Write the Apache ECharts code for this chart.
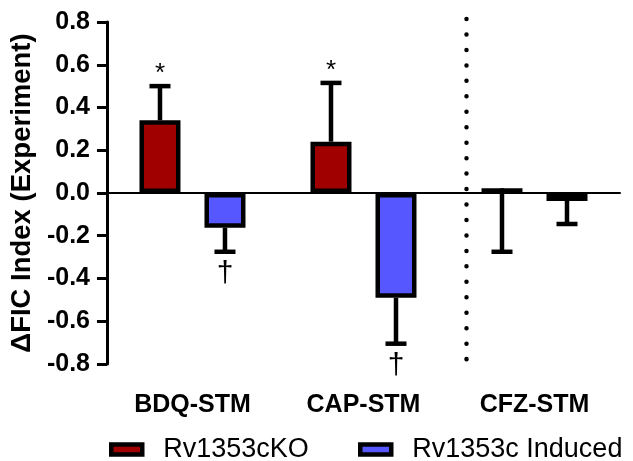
<!DOCTYPE html>
<html>
<head>
<meta charset="utf-8">
<script src="https://cdn.jsdelivr.net/npm/echarts@6/dist/echarts.min.js"></script>
<style>
  html, body { margin: 0; padding: 0; background: #fff; }
  #chart { width: 633px; height: 461px; }
</style>
</head>
<body>
<div id="chart"></div>
<script>
// data
var categories = ['BDQ-STM', 'CAP-STM', 'CFZ-STM'];
var koValues = [0.34, 0.24, 0.022];
var koErrEnd = [0.50, 0.515, -0.275];
var koMarks = ['*', '*', ''];
var indValues = [-0.162, -0.49, -0.037];
var indErrEnd = [-0.275, -0.705, -0.145];
var indMarks = ['\u2020', '\u2020', ''];
var seriesNames = ['Rv1353cKO', 'Rv1353c Induced'];
var yMin = -0.8, yMax = 0.8, yStep = 0.2;

var FONT = '"Liberation Sans", Arial, Helvetica, sans-serif';
var RED = '#a00000';
var BLUE = '#5757ff';
var BAR_W = 41;
var BAR_GAP = 24 / 41;
var BORDER = 4.5;
var OFFSET = (BAR_W + BAR_W * BAR_GAP) / 2;

var chart = echarts.init(document.getElementById('chart'));

function errorData(values, ends, marks) {
    return values.map(function (v, i) {
        return [i, v, ends[i], marks[i]];
    });
}

function errorRender(sign, marks) {
    return function (params, api) {
        var idx = api.value(0);
        var base = api.coord([idx, api.value(1)]);
        var end = api.coord([idx, api.value(2)]);
        var x = base[0] + sign * OFFSET;
        var text = marks[idx];
        var up = end[1] < base[1];
        var children = [
            {type: 'line', shape: {x1: x, y1: base[1], x2: x, y2: end[1]},
                style: {stroke: '#000', lineWidth: 4.5}},
            {type: 'line', shape: {x1: x - 10.5, y1: end[1], x2: x + 10.5, y2: end[1]},
                style: {stroke: '#000', lineWidth: 4.5}}
        ];
        if (text) {
            children.push({
                type: 'text',
                style: {
                    text: text,
                    x: x,
                    y: up ? end[1] - 12 : end[1] + 22,
                    align: 'center',
                    verticalAlign: 'middle',
                    font: (up ? '26px ' : '30px ') + FONT,
                    fill: '#000'
                }
            });
        }
        return {type: 'group', children: children};
    };
}

function legendFor(name, left) {
    return {
        data: [name],
        left: left, top: 436,
        padding: 0,
        icon: 'rect', itemWidth: 31, itemHeight: 10,
        itemStyle: {borderColor: '#000', borderWidth: BORDER},
        textStyle: {fontFamily: FONT, fontSize: 27, color: '#000', padding: [0, 0, 0, 16]}
    };
}

var option = {
    animation: false,
    backgroundColor: '#fff',
    grid: {left: 106, right: 13, top: 22, bottom: 97},
    legend: [legendFor(seriesNames[0], 109), legendFor(seriesNames[1], 358)],
    xAxis: [{
        type: 'category',
        data: categories,
        axisLine: {onZero: true, lineStyle: {color: '#000', width: 2}},
        axisTick: {show: false},
        axisLabel: {show: false},
        splitLine: {show: false}
    }, {
        type: 'category',
        data: categories,
        position: 'bottom',
        axisLine: {show: false, onZero: false},
        axisTick: {show: false},
        axisLabel: {
            margin: 29,
            fontFamily: FONT, fontSize: 25, fontWeight: 'bold', color: '#000'
        },
        splitLine: {show: false}
    }],
    yAxis: {
        type: 'value',
        min: yMin, max: yMax, interval: yStep,
        name: '\u0394FIC Index (Experiment)',
        nameLocation: 'middle',
        nameGap: 64,
        nameTextStyle: {fontFamily: FONT, fontSize: 27.5, fontWeight: 'bold', color: '#000'},
        axisLine: {show: true, lineStyle: {color: '#000', width: 3}},
        axisTick: {show: true, length: 10, lineStyle: {color: '#000', width: 3}},
        axisLabel: {
            margin: 17,
            fontFamily: FONT, fontSize: 25, fontWeight: 'bold', color: '#000',
            formatter: function (v) { return v.toFixed(1); }
        },
        splitLine: {show: false}
    },
    series: [{
        name: seriesNames[0],
        type: 'bar',
        data: koValues,
        barWidth: BAR_W,
        barGap: (BAR_GAP * 100) + '%',
        itemStyle: {color: RED, borderColor: '#000', borderWidth: BORDER}
    }, {
        name: seriesNames[1],
        type: 'bar',
        data: indValues,
        barWidth: BAR_W,
        barGap: (BAR_GAP * 100) + '%',
        itemStyle: {color: BLUE, borderColor: '#000', borderWidth: BORDER}
    }, {
        type: 'custom',
        z: 1,
        renderItem: errorRender(-1, koMarks),
        encode: {x: 0, y: [1, 2]},
        data: errorData(koValues, koErrEnd, koMarks)
    }, {
        type: 'custom',
        z: 1,
        renderItem: errorRender(1, indMarks),
        encode: {x: 0, y: [1, 2]},
        data: errorData(indValues, indErrEnd, indMarks)
    }, {
        // dotted divider before the CFZ group
        type: 'custom',
        renderItem: function (params, api) {
            var c = api.coord([api.value(0), yMax]);
            var b = api.coord([api.value(0), yMin]);
            var x = c[0] - OFFSET - BAR_W / 2 - 15;
            return {
                type: 'line',
                shape: {x1: x, y1: c[1] - 3, x2: x, y2: b[1] - 4.5},
                style: {stroke: '#000', lineWidth: 4.5, lineDash: [0.01, 15.45], lineCap: 'round'}
            };
        },
        data: [[2]]
    }]
};

chart.setOption(option);
</script>
</body>
</html>
